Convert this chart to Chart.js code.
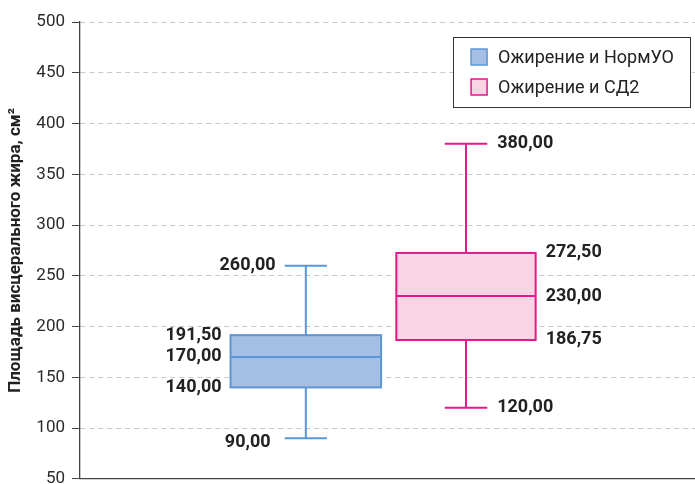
<!DOCTYPE html>
<html>
<head>
<meta charset="utf-8">
<script src="https://cdn.jsdelivr.net/npm/chart.js@4/dist/chart.umd.min.js"></script>
<style>
    html, body { margin: 0; padding: 0; background: #fff; overflow: hidden; }
    #wrap { width: 695px; height: 496px; position: relative; }
</style>
</head>
<body>
<div id="wrap"><canvas id="boxChart"></canvas></div>
<script>
// Box plot values
var groups = ["Ожирение и НормУО", "Ожирение и СД2"];
var minVals = [90, 120];
var q1Vals = [140, 186.75];
var medianVals = [170, 230];
var q3Vals = [191.5, 272.5];
var maxVals = [260, 380];
var yTicks = [50, 100, 150, 200, 250, 300, 350, 400, 450, 500];

// Look of each group
var fillColors = ["#a5bfe4", "#f9d4e4"];
var lineColors = ["#5b96d6", "#e6168b"];
var boxWidths = [0.94, 0.87];
var capWidth = 0.265;
var labelSide = ["left", "right"];

function fmt(v){
    return v.toFixed(2).replace(".", ",");
}

var boxPlugin = {
    id: "boxes",
    afterDatasetsDraw: function(chart){
        var ctx = chart.ctx;
        var x = chart.scales.x;
        var y = chart.scales.y;
        ctx.save();
        for (var i = 0; i < groups.length; i++){
            var pos = i + 1;
            var cx = x.getPixelForValue(pos);
            var bl = x.getPixelForValue(pos - boxWidths[i] / 2);
            var br = x.getPixelForValue(pos + boxWidths[i] / 2);
            var cl = x.getPixelForValue(pos - capWidth / 2);
            var cr = x.getPixelForValue(pos + capWidth / 2);
            var yMin = y.getPixelForValue(minVals[i]);
            var yQ1 = y.getPixelForValue(q1Vals[i]);
            var yMed = y.getPixelForValue(medianVals[i]);
            var yQ3 = y.getPixelForValue(q3Vals[i]);
            var yMax = y.getPixelForValue(maxVals[i]);

            ctx.strokeStyle = lineColors[i];
            ctx.lineWidth = 2;
            // whiskers
            ctx.beginPath();
            ctx.moveTo(cx, yMax); ctx.lineTo(cx, yQ3);
            ctx.moveTo(cx, yQ1); ctx.lineTo(cx, yMin);
            ctx.moveTo(cl, yMax); ctx.lineTo(cr, yMax);
            ctx.moveTo(cl, yMin); ctx.lineTo(cr, yMin);
            ctx.stroke();
            // box
            ctx.fillStyle = fillColors[i];
            ctx.fillRect(bl, yQ3, br - bl, yQ1 - yQ3);
            ctx.strokeRect(bl, yQ3, br - bl, yQ1 - yQ3);
            ctx.beginPath();
            ctx.moveTo(bl, yMed); ctx.lineTo(br, yMed);
            ctx.stroke();

            // value labels
            ctx.fillStyle = "#222";
            ctx.font = "bold 18px Roboto";
            ctx.textBaseline = "middle";
            if (labelSide[i] == "left"){
                ctx.textAlign = "right";
                ctx.fillText(fmt(maxVals[i]), cl - 9, yMax);
                ctx.fillText(fmt(minVals[i]), cl - 14, yMin + 4);
                ctx.fillText(fmt(q3Vals[i]), bl - 9, yQ3);
                ctx.fillText(fmt(medianVals[i]), bl - 9, yMed);
                ctx.fillText(fmt(q1Vals[i]), bl - 9, yQ1);
            }
            else {
                ctx.textAlign = "left";
                ctx.fillText(fmt(maxVals[i]), cr + 10, yMax);
                ctx.fillText(fmt(minVals[i]), cr + 10, yMin);
                ctx.fillText(fmt(q3Vals[i]), br + 10, yQ3);
                ctx.fillText(fmt(medianVals[i]), br + 10, yMed);
                ctx.fillText(fmt(q1Vals[i]), br + 10, yQ1);
            }
        }
        ctx.restore();
    }
};

var legendPlugin = {
    id: "boxLegend",
    afterDraw: function(chart){
        var ctx = chart.ctx;
        var area = chart.chartArea;
        ctx.save();
        ctx.font = "18px Roboto";
        var textW = 0;
        groups.forEach(function(g){ textW = Math.max(textW, ctx.measureText(g).width); });
        var w = 18 + 16 + 11 + textW + 16;
        var h = 70;
        var left = area.right - 5 - w;
        var top = area.top + 15;
        ctx.fillStyle = "#fff";
        ctx.fillRect(left, top, w, h);
        ctx.strokeStyle = "#333";
        ctx.lineWidth = 1;
        ctx.strokeRect(Math.round(left) + 0.5, Math.round(top) + 0.5, Math.round(w), h);
        for (var i = 0; i < groups.length; i++){
            var rowY = top + 20 + i * 30;
            ctx.fillStyle = fillColors[i];
            ctx.fillRect(left + 18, rowY - 8, 16, 16);
            ctx.strokeStyle = lineColors[i];
            ctx.lineWidth = 1.5;
            ctx.strokeRect(left + 18, rowY - 8, 16, 16);
            ctx.fillStyle = "#222";
            ctx.textBaseline = "middle";
            ctx.textAlign = "left";
            ctx.fillText(groups[i], left + 45, rowY + 1);
        }
        ctx.restore();
    }
};

new Chart(document.getElementById("boxChart"), {
    type: "scatter",
    data: {
        datasets: groups.map(function(g, i){
            return {
                label: g,
                data: [{x: i + 1, y: medianVals[i]}],
                pointRadius: 0,
                backgroundColor: fillColors[i],
                borderColor: lineColors[i]
            };
        })
    },
    options: {
        responsive: true,
        maintainAspectRatio: false,
        animation: false,
        layout: {
            padding: {top: 22, right: 0, bottom: 3, left: 0}
        },
        plugins: {
            legend: {display: false},
            tooltip: {enabled: false}
        },
        scales: {
            x: {
                type: "linear",
                min: -0.41,
                max: 3.43,
                ticks: {display: false},
                grid: {display: false},
                border: {display: true, color: "#444", width: 1.3}
            },
            y: {
                min: yTicks[0],
                max: yTicks[yTicks.length - 1],
                afterFit: function(scale){ scale.width = 80; },
                afterBuildTicks: function(scale){
                    scale.ticks = yTicks.map(function(v){ return {value: v}; });
                },
                ticks: {
                    padding: 7,
                    color: "#2b2b2b",
                    font: {family: "Roboto", size: 17}
                },
                grid: {
                    color: "#c8c8c8",
                    tickColor: "#444",
                    tickLength: 8,
                    lineWidth: 1
                },
                border: {display: true, color: "#444", width: 1.3, dash: [5, 4]},
                title: {
                    display: true,
                    text: "Площадь висцерального жира, см²",
                    color: "#222",
                    font: {family: "Roboto", size: 17, weight: "bold"},
                    padding: {top: 6, bottom: 0}
                }
            }
        }
    },
    plugins: [boxPlugin, legendPlugin]
});
</script>
</body>
</html>
